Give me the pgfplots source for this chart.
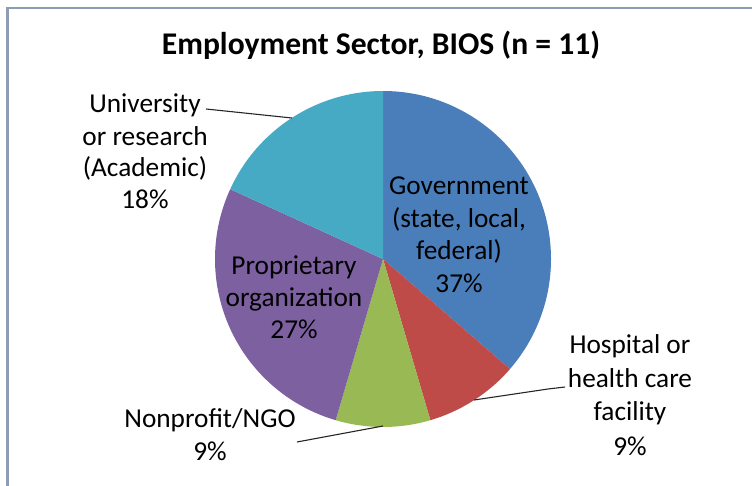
\documentclass[border=0pt]{standalone}
\usepackage{pgfplots}
\usepackage{pgfplotstable}
\pgfplotsset{compat=1.18}
\usepackage{fontspec}
\setmainfont{Carlito}

\definecolor{cGov}{HTML}{4A7EBB}
\definecolor{cHosp}{HTML}{BE4B48}
\definecolor{cNon}{HTML}{98B954}
\definecolor{cProp}{HTML}{7D60A0}
\definecolor{cUni}{HTML}{46AAC5}
\definecolor{frame}{HTML}{8C9DB5}

\pgfplotstableread{
sector count
Government 4
Hospital 1
Nonprofit 1
Proprietary 3
University 2
}\piedata

\newcommand\getcount[2]{\pgfplotstablegetelem{#1}{count}\of\piedata\edef#2{\pgfplotsretval}}
\getcount{0}{\cA}\getcount{1}{\cB}\getcount{2}{\cC}\getcount{3}{\cD}\getcount{4}{\cE}
\pgfmathsetmacro\total{\cA+\cB+\cC+\cD+\cE}
\pgfmathsetmacro\aA{90}
\pgfmathsetmacro\aB{\aA-360*\cA/\total}
\pgfmathsetmacro\aC{\aB-360*\cB/\total}
\pgfmathsetmacro\aD{\aC-360*\cC/\total}
\pgfmathsetmacro\aE{\aD-360*\cD/\total}
\pgfmathsetmacro\aF{\aE-360*\cE/\total}

\newcommand\lbl{\fontsize{27.3bp}{32bp}\selectfont}

\begin{document}
\begin{tikzpicture}
\begin{axis}[width=752bp, height=486bp, scale only axis,
  xmin=0, xmax=752, ymin=0, ymax=486, y dir=reverse,
  hide axis, clip=false, anchor=south west, at={(0,0)}]
% frame
\draw[frame, line width=2.2bp] (axis cs:7.5,486) -- (axis cs:7.5,8) -- (axis cs:752,8);
% pie
\fill[cGov]  (axis cs:383,259) -- ++(\aA:168bp) arc[start angle=\aA, end angle=\aB, radius=168bp] -- cycle;
\fill[cHosp] (axis cs:383,259) -- ++(\aB:168bp) arc[start angle=\aB, end angle=\aC, radius=168bp] -- cycle;
\fill[cNon]  (axis cs:383,259) -- ++(\aC:168bp) arc[start angle=\aC, end angle=\aD, radius=168bp] -- cycle;
\fill[cProp] (axis cs:383,259) -- ++(\aD:168bp) arc[start angle=\aD, end angle=\aE, radius=168bp] -- cycle;
\fill[cUni]  (axis cs:383,259) -- ++(\aE:168bp) arc[start angle=\aE, end angle=\aF, radius=168bp] -- cycle;
% leader lines
\draw[black!85, line width=1.1bp] (axis cs:206,109) -- (axis cs:292,118);
\draw[black!85, line width=1.1bp] (axis cs:474,400) -- (axis cs:548,389) -- (axis cs:565,387);
\draw[black!85, line width=1.1bp] (axis cs:297,442) -- (axis cs:383,426);
% title
\node[anchor=base, inner sep=0] at (axis cs:381,55) {\fontsize{31.6bp}{36bp}\selectfont\bfseries Employment Sector, BIOS (n = 11)};
% labels
\node[anchor=base, inner sep=0] at (axis cs:145,113) {\lbl University};
\node[anchor=base, inner sep=0] at (axis cs:145,145) {\lbl or research};
\node[anchor=base, inner sep=0] at (axis cs:145,176) {\lbl (Academic)};
\node[anchor=base, inner sep=0] at (axis cs:145,208) {\lbl 18\%};
\node[anchor=base, inner sep=0] at (axis cs:459,194) {\lbl Government};
\node[anchor=base, inner sep=0] at (axis cs:459,227) {\lbl (state, local,};
\node[anchor=base, inner sep=0] at (axis cs:459,259) {\lbl federal)};
\node[anchor=base, inner sep=0] at (axis cs:459,292) {\lbl 37\%};
\node[anchor=base, inner sep=0] at (axis cs:294,274) {\lbl Proprietary};
\node[anchor=base, inner sep=0] at (axis cs:294,306) {\lbl organization};
\node[anchor=base, inner sep=0] at (axis cs:294,338) {\lbl 27\%};
\node[anchor=base, inner sep=0] at (axis cs:630,353) {\lbl Hospital or};
\node[anchor=base, inner sep=0] at (axis cs:630,387) {\lbl health care};
\node[anchor=base, inner sep=0] at (axis cs:630,420) {\lbl facility};
\node[anchor=base, inner sep=0] at (axis cs:630,455) {\lbl 9\%};
\node[anchor=base, inner sep=0] at (axis cs:210,427) {\lbl Nonprofit/NGO};
\node[anchor=base, inner sep=0] at (axis cs:210,460) {\lbl 9\%};
\end{axis}
\pgfresetboundingbox
\path (0,0) rectangle (752bp,486bp);
\end{tikzpicture}
\end{document}
